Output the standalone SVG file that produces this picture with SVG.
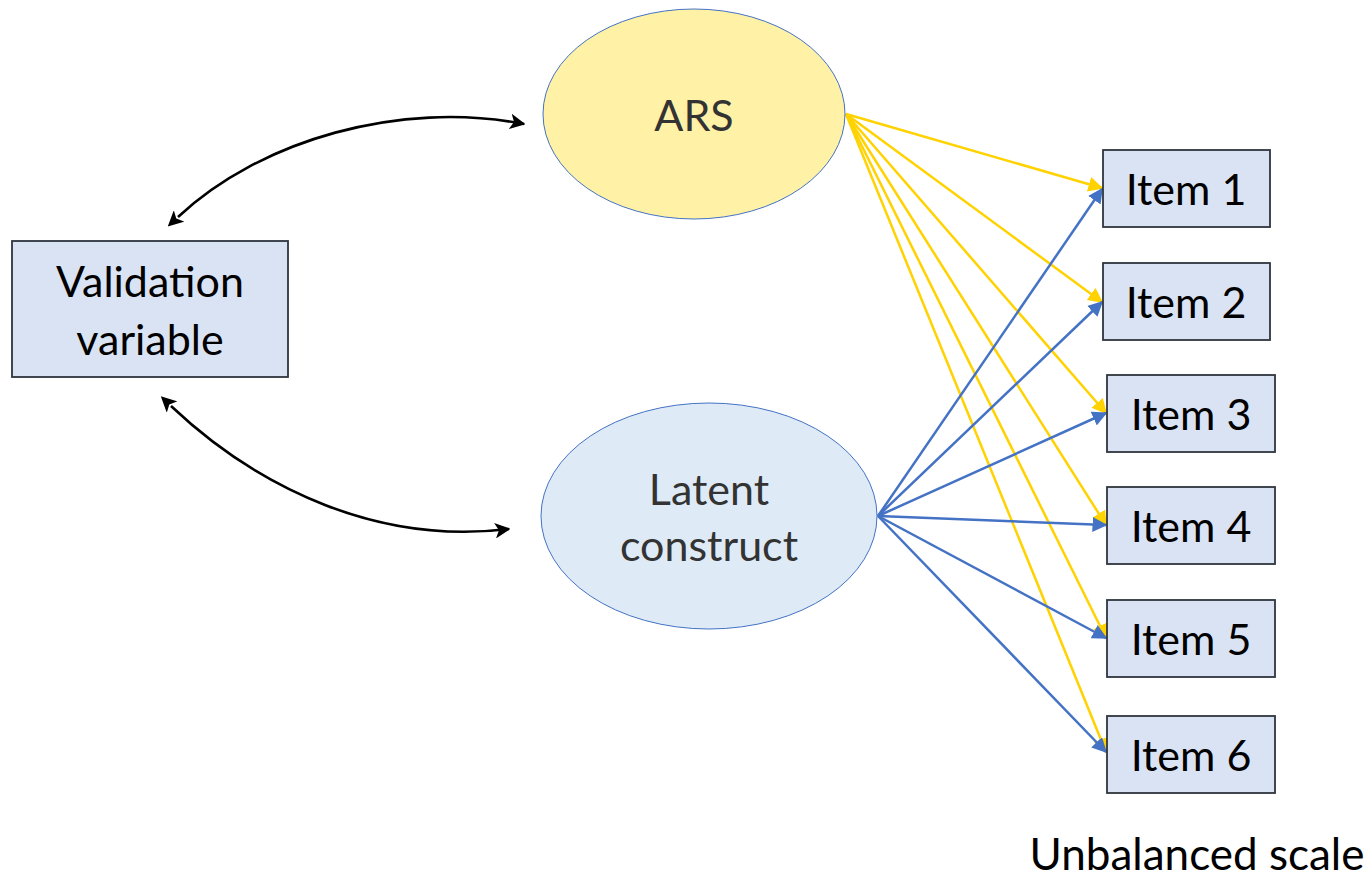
<svg xmlns="http://www.w3.org/2000/svg" width="1370" height="881" viewBox="0 0 1370 881">
  <style>
    text { font-family: Lato, "Open Sans", "Liberation Sans", sans-serif; font-size: 43px; text-anchor: middle; }
    .box { fill: #dae3f3; stroke: #2f353d; stroke-width: 1.8; }
    .lbl { fill: #000000; }
    .elbl { fill: #333333; }
    .ylw { stroke: #ffd200; stroke-width: 2.5; fill: none; marker-end: url(#ah-y); }
    .blu { stroke: #4472c4; stroke-width: 2.5; fill: none; marker-end: url(#ah-b); }
    .cov { stroke: #000000; stroke-width: 2.6; fill: none; marker-start: url(#ah-k-start); marker-end: url(#ah-k); }
  </style>
  <defs>
    <marker id="ah-y" viewBox="0 0 10 10" refX="9" refY="5" markerWidth="6" markerHeight="6" orient="auto" markerUnits="strokeWidth">
      <path d="M0,0 L10,5 L0,10 z" fill="#ffd200"/>
    </marker>
    <marker id="ah-b" viewBox="0 0 10 10" refX="9" refY="5" markerWidth="6" markerHeight="6" orient="auto" markerUnits="strokeWidth">
      <path d="M0,0 L10,5 L0,10 z" fill="#4472c4"/>
    </marker>
    <marker id="ah-k" viewBox="0 0 10 10" refX="9" refY="5" markerWidth="6" markerHeight="6" orient="auto" markerUnits="strokeWidth">
      <path d="M0,0 L10,5 L0,10 L2.5,5 z" fill="#000000"/>
    </marker>
    <marker id="ah-k-start" viewBox="0 0 10 10" refX="1" refY="5" markerWidth="6" markerHeight="6" orient="auto-start-reverse" markerUnits="strokeWidth">
      <path d="M0,0 L10,5 L0,10 L2.5,5 z" fill="#000000"/>
    </marker>
  </defs>

  <rect width="1370" height="881" fill="#ffffff"/>

  <g id="connectors">
    <!-- covariance arcs -->
    <path class="cov" d="M178,217 C260,140 400,100 524,124"/>
    <path class="cov" d="M171,406 C260,490 380,545 509,529"/>
    <!-- ARS loadings -->
    <line class="ylw" x1="846" y1="114" x2="1102" y2="188"/>
    <line class="ylw" x1="846" y1="114" x2="1102" y2="302"/>
    <line class="ylw" x1="846" y1="114" x2="1106" y2="413"/>
    <line class="ylw" x1="846" y1="114" x2="1106" y2="525"/>
    <line class="ylw" x1="846" y1="114" x2="1106" y2="638"/>
    <line class="ylw" x1="846" y1="114" x2="1106" y2="752"/>
    <!-- construct loadings -->
    <line class="blu" x1="878" y1="516" x2="1102" y2="189"/>
    <line class="blu" x1="878" y1="516" x2="1102" y2="302"/>
    <line class="blu" x1="878" y1="516" x2="1106" y2="413"/>
    <line class="blu" x1="878" y1="516" x2="1106" y2="525"/>
    <line class="blu" x1="878" y1="516" x2="1106" y2="638"/>
    <line class="blu" x1="878" y1="516" x2="1106" y2="752"/>
  </g>

  <g id="validation">
    <rect class="box" x="12" y="241" width="276" height="136"/>
    <text class="lbl" x="150" y="297">Validation</text>
    <text class="lbl" x="150" y="355">variable</text>
  </g>

  <g id="ars">
    <ellipse cx="694" cy="114" rx="151" ry="105" fill="#fff1a6" stroke="#4472c4" stroke-width="1"/>
    <text class="elbl" x="694" y="131">ARS</text>
  </g>

  <g id="latent">
    <ellipse cx="709" cy="516" rx="168" ry="113" fill="#deebf7" stroke="#4472c4" stroke-width="1"/>
    <text class="elbl" x="709" y="505">Latent</text>
    <text class="elbl" x="709" y="561">construct</text>
  </g>

  <g id="item1">
    <rect class="box" x="1103" y="150" width="167" height="77"/>
    <text class="lbl" x="1186" y="205">Item 1</text>
  </g>
  <g id="item2">
    <rect class="box" x="1103" y="263" width="167" height="77"/>
    <text class="lbl" x="1186" y="318">Item 2</text>
  </g>
  <g id="item3">
    <rect class="box" x="1107" y="375" width="168" height="77"/>
    <text class="lbl" x="1191" y="430">Item 3</text>
  </g>
  <g id="item4">
    <rect class="box" x="1107" y="487" width="168" height="77"/>
    <text class="lbl" x="1191" y="542">Item 4</text>
  </g>
  <g id="item5">
    <rect class="box" x="1107" y="600" width="168" height="77"/>
    <text class="lbl" x="1191" y="655">Item 5</text>
  </g>
  <g id="item6">
    <rect class="box" x="1107" y="716" width="168" height="77"/>
    <text class="lbl" x="1191" y="771">Item 6</text>
  </g>

  <g id="caption">
    <text class="lbl" x="1197" y="870" style="font-size:44px">Unbalanced scale</text>
  </g>
</svg>
